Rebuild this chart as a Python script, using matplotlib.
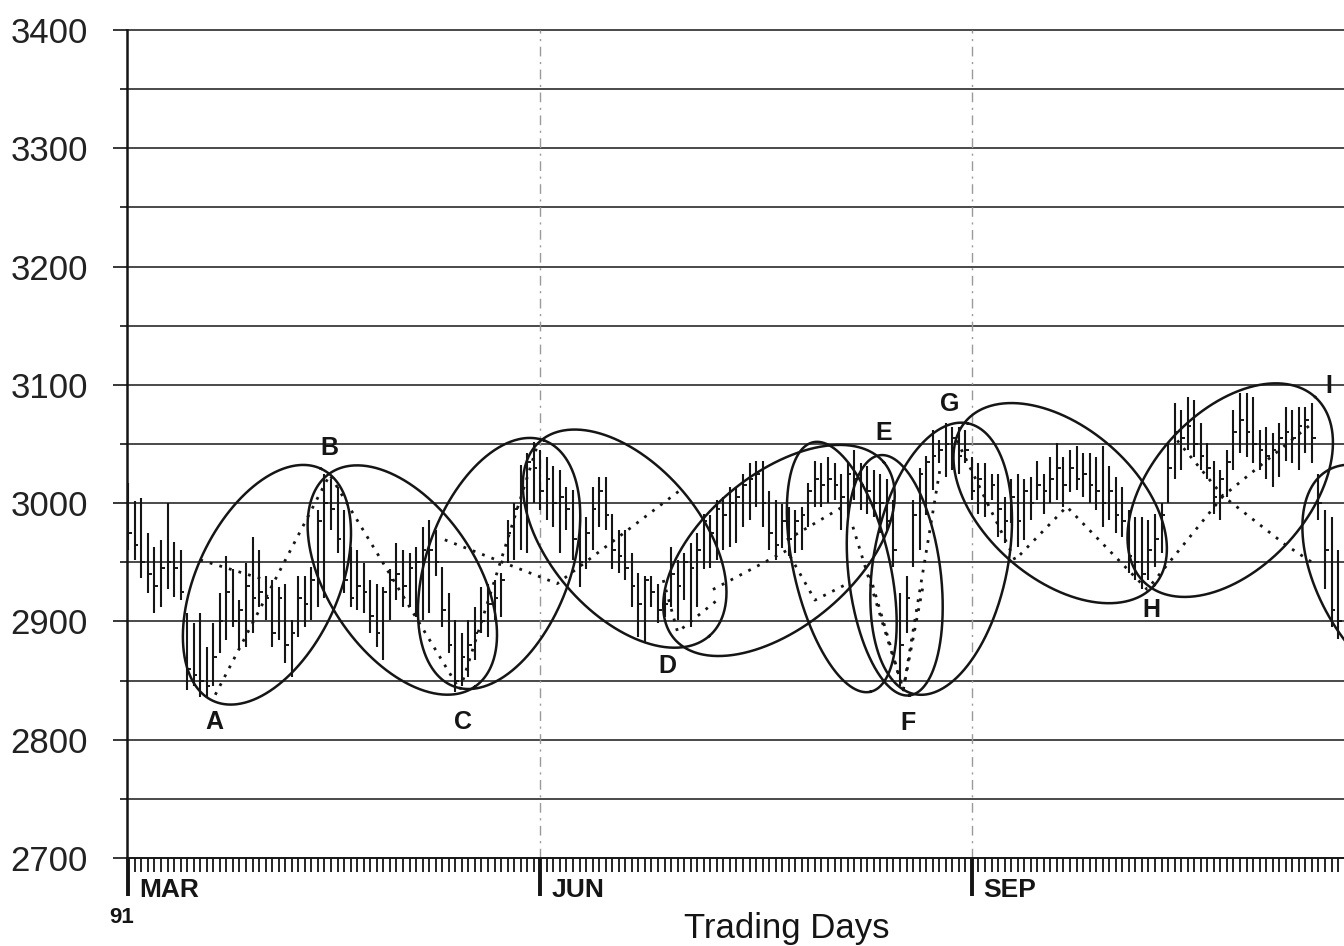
import numpy as np
import matplotlib
matplotlib.use('Agg')
import matplotlib.pyplot as plt

plt.rcParams['font.family'] = ['Liberation Sans', 'DejaVu Sans']

# ---------------- data ----------------
highs = [3017, 3002, 3004, 2975, 2963, 2969, 3000, 2967, 2960, 2907,
         2899, 2907, 2878, 2899, 2924, 2955, 2944, 2918, 2949, 2971,
         2960, 2938, 2935, 2929, 2932, 2901, 2938, 2938, 2946, 2994,
         3025, 3020, 3014, 2994, 2963, 2960, 2949, 2935, 2932, 2929,
         2944, 2966, 2960, 2958, 2963, 2980, 2986, 2977, 2946, 2924,
         2901, 2890, 2901, 2912, 2929, 2932, 2935, 2941, 2986, 3000,
         3032, 3042, 3052, 3045, 3039, 3031, 3028, 3014, 3011, 2986,
         2988, 3014, 3022, 3022, 2991, 2977, 2977, 2958, 2941, 2938,
         2938, 2932, 2924, 2963, 2952, 2958, 2966, 2975, 2991, 2990,
         3003, 3005, 3014, 3014, 3025, 3034, 3036, 3036, 3010, 3003,
         2999, 2997, 2994, 2997, 3017, 3036, 3034, 3039, 3034, 3025,
         3034, 3045, 3034, 3031, 3028, 3025, 3020, 3003, 2924, 2938,
         3003, 3030, 3040, 3062, 3053, 3068, 3064, 3064, 3062, 3039,
         3034, 3034, 3025, 3025, 3005, 3020, 3025, 3020, 3022, 3036,
         3025, 3039, 3051, 3039, 3045, 3048, 3042, 3042, 3039, 3048,
         3031, 3022, 3014, 2994, 2988, 2988, 2986, 2991, 3000, 3050,
         3085, 3079, 3090, 3087, 3068, 3051, 3036, 3028, 3045, 3079,
         3093, 3093, 3090, 3062, 3064, 3059, 3068, 3081, 3079, 3081,
         3081, 3085, 3025, 2994, 2988, 2960]
lows = [2960, 2952, 2937, 2924, 2907, 2912, 2927, 2921, 2918, 2842,
        2845, 2836, 2836, 2845, 2873, 2884, 2895, 2876, 2878, 2890,
        2912, 2901, 2878, 2884, 2865, 2853, 2887, 2895, 2901, 2912,
        2920, 2977, 2958, 2924, 2912, 2910, 2907, 2890, 2878, 2867,
        2901, 2918, 2912, 2912, 2904, 2901, 2907, 2938, 2895, 2873,
        2840, 2845, 2853, 2867, 2890, 2887, 2901, 2904, 2949, 2952,
        2960, 2958, 3000, 2994, 2986, 2980, 2958, 2977, 2952, 2929,
        2944, 2960, 2980, 2977, 2944, 2941, 2935, 2912, 2887, 2882,
        2912, 2899, 2904, 2912, 2901, 2918, 2895, 2912, 2944, 2945,
        2952, 2960, 2963, 2966, 2980, 2986, 2997, 2980, 2960, 2952,
        2962, 2955, 2958, 2960, 2980, 2997, 2997, 3000, 3003, 2977,
        2988, 3003, 2994, 2991, 2988, 2975, 2977, 2946, 2845, 2890,
        2946, 2960, 2990, 3011, 3034, 3022, 3028, 3025, 3034, 3003,
        2991, 2988, 3003, 2971, 2966, 2983, 2963, 2969, 2986, 3003,
        2991, 3000, 3003, 2997, 3009, 3011, 3005, 3000, 2994, 2980,
        2986, 2975, 2971, 2941, 2935, 2927, 2935, 2946, 2958, 3000,
        3020, 3028, 3045, 3039, 3028, 3020, 2991, 2986, 3005, 3028,
        3042, 3039, 3034, 3028, 3020, 3014, 3022, 3036, 3034, 3028,
        3042, 3034, 2986, 2927, 2895, 2885]
closes = [2975, 2965, 2950, 2940, 2930, 2945, 2950, 2945, 2925, 2860,
          2855, 2850, 2845, 2870, 2900, 2925, 2900, 2910, 2930, 2920,
          2925, 2920, 2890, 2920, 2880, 2890, 2920, 2915, 2935, 2985,
          3000, 2995, 2970, 2935, 2920, 2930, 2925, 2905, 2890, 2925,
          2935, 2940, 2930, 2945, 2950, 2960, 2960, 2950, 2910, 2880,
          2850, 2870, 2880, 2890, 2900, 2915, 2920, 2935, 2975, 2995,
          3020, 3035, 3030, 3010, 3020, 3000, 3005, 2995, 2970, 2950,
          2975, 2995, 3010, 2990, 2960, 2955, 2945, 2930, 2915, 2935,
          2925, 2910, 2915, 2940, 2930, 2950, 2945, 2960, 2985, 2975,
          2995, 2990, 3000, 3005, 3015, 3020, 3025, 3000, 2975, 2965,
          2985, 2970, 2985, 2990, 3010, 3020, 3015, 3020, 3015, 3005,
          3025, 3020, 3015, 3010, 3000, 3000, 2985, 2960, 2880, 2920,
          2990, 3025, 3035, 3040, 3045, 3050, 3055, 3040, 3045, 3010,
          3020, 3000, 3015, 2995, 2985, 3005, 2985, 3010, 3000, 3015,
          3010, 3020, 3030, 3015, 3030, 3020, 3025, 3015, 3010, 3000,
          3010, 2990, 2985, 2955, 2950, 2940, 2960, 2970, 2990, 3030,
          3060, 3055, 3065, 3050, 3040, 3030, 3005, 3020, 3035, 3060,
          3070, 3060, 3050, 3045, 3040, 3045, 3055, 3060, 3055, 3065,
          3070, 3055, 3000, 2960, 2910, 2900]
days = list(range(len(highs)))

month_days = [0, 63, 129]
month_labels = ['MAR', 'JUN', 'SEP']
year_label = '91'
x_label = 'Trading Days'

y_major = list(range(2700, 3401, 100))
y_minor = list(range(2750, 3400, 100))
grid_levels = list(range(2750, 3401, 50))

turn_labels = ['A', 'B', 'C', 'D', 'E', 'F', 'G', 'H', 'I']
turn_days = [13.1, 30.8, 51.2, 82.5, 115.5, 119.2, 125.6, 156.5, 183.6]
turn_prices = [2815, 3047, 2815, 2862, 3059, 2814, 3084, 2910, 3099]

# ellipses: centre day, centre price, semi-axes (px), tilt (deg)
ell_day = [21.2, 41.9, 56.7, 75.9, 99.5, 109.1, 117.2, 124.3, 142.5, 168.5, 193.2]
ell_price = [2931, 2935, 2949, 2970, 2960, 2946, 2939, 2953, 3000, 3011, 2934]
ell_a = [128, 129, 131, 129, 137, 128, 121, 138, 125, 126, 128]
ell_b = [71, 74, 72, 75, 76, 48, 46, 67, 76, 78, 72]
ell_ang = [65, -56, 70, -49, 40, -77, -83, 79, -41, 47.5, -60]

# dotted guide lines (day, price) vertices
dot_paths = [
    [(13.3, 2838), (30.8, 3024), (50.7, 2842), (62.5, 3048)],
    [(11.0, 2952), (21.0, 2935)],
    [(48.4, 2969), (65.6, 2932), (84.4, 3011)],
    [(81.8, 2935), (84.0, 2891), (90.5, 2920)],
    [(89.4, 2927), (100.7, 2960), (105.0, 2918), (110.0, 2932)],
    [(100.7, 2969), (111.1, 3003)],
    [(110.8, 2980), (118.5, 2842), (124.1, 3028)],
    [(113.4, 2939), (118.5, 2842), (121.5, 2929)],
    [(126.7, 3053), (135.6, 2952), (143.5, 2997), (155.8, 2927),
     (167.4, 3006), (176.9, 2965), (181.0, 2950)],
    [(160.4, 3053), (167.4, 3006), (180.7, 3066)],
]

# ---------------- figure ----------------
W, H = 1344, 946
fig = plt.figure(figsize=(W / 100, H / 100), dpi=100)
ax_l, ax_b, ax_w, ax_h = 127, 88, 1217, 828
ax = fig.add_axes([ax_l / W, ax_b / H, ax_w / W, ax_h / H])
xmin, xmax = -0.2, 185.9
ymin, ymax = 2700, 3400
ax.set_xlim(xmin, xmax)
ax.set_ylim(ymin, ymax)

ink = '#151515'

for v in grid_levels:
    ax.axhline(v, color='#2a2a2a', lw=1.2, zorder=1, clip_on=False)
for d in month_days[1:]:
    ax.axvline(d, color='#9a9a9a', lw=1.0, ls=(0, (7, 4, 1.5, 4)), zorder=1)

d_arr = np.array(days, dtype=float)
ax.vlines(d_arr, lows, highs, color=ink, lw=1.5, zorder=2)
ax.hlines(closes, d_arr, d_arr + 0.55, color=ink, lw=1.4, zorder=2)

for path in dot_paths:
    px = [p[0] for p in path]
    py = [p[1] for p in path]
    ax.plot(px, py, color=ink, lw=2.0, ls=(0, (1, 2.6)), zorder=3)

ppd = ax_w / (xmax - xmin)
ppp = ax_h / (ymax - ymin)
t = np.linspace(0, 2 * np.pi, 500)
for cd, cp, a, b, ang in zip(ell_day, ell_price, ell_a, ell_b, ell_ang):
    ph = np.radians(ang)
    ex = a * np.cos(t) * np.cos(ph) - b * np.sin(t) * np.sin(ph)
    ey = a * np.cos(t) * np.sin(ph) + b * np.sin(t) * np.cos(ph)
    ax.plot(cd + ex / ppd, cp + ey / ppp, color=ink, lw=1.8, zorder=4)

for lab, d, p in zip(turn_labels, turn_days, turn_prices):
    ax.text(d, p, lab, fontsize=18, fontweight='bold', ha='center',
            va='center', color=ink, zorder=5)

# axes styling
for s in ['top', 'right']:
    ax.spines[s].set_visible(False)
ax.spines['left'].set_linewidth(1.8)
ax.spines['left'].set_color(ink)
ax.spines['bottom'].set_linewidth(1.4)
ax.spines['bottom'].set_color(ink)

ax.set_yticks(y_major)
ax.set_yticklabels([str(v) for v in y_major])
ax.set_yticks(y_minor, minor=True)
ax.tick_params(axis='y', which='major', length=10, width=1.2, pad=18,
               labelsize=25, labelcolor='#222', color=ink)
ax.tick_params(axis='y', which='minor', length=5, width=1.2, color=ink)

ax.set_xticks(month_days)
ax.set_xticklabels([])
ax.set_xticks(list(range(0, 186)), minor=True)
ax.tick_params(axis='x', which='major', length=27, width=2.8, color=ink)
ax.tick_params(axis='x', which='minor', length=10, width=1.3, color=ink)

for d, lab in zip(month_days, month_labels):
    ax.annotate(lab, xy=(d, 0), xycoords=('data', 'axes fraction'),
                xytext=(8, -23), textcoords='offset points', ha='left',
                va='center', fontsize=19, fontweight='bold', color=ink)
ax.annotate(year_label, xy=(month_days[0], 0), xycoords=('data', 'axes fraction'),
            xytext=(-5, -43), textcoords='offset points', ha='center',
            va='center', fontsize=16, fontweight='bold', color=ink)
ax.annotate(x_label, xy=((787 - ax_l) / ax_w, 0), xycoords='axes fraction',
            xytext=(0, -51), textcoords='offset points', ha='center',
            va='center', fontsize=25, color=ink)

fig.savefig('out.png', dpi=100)
